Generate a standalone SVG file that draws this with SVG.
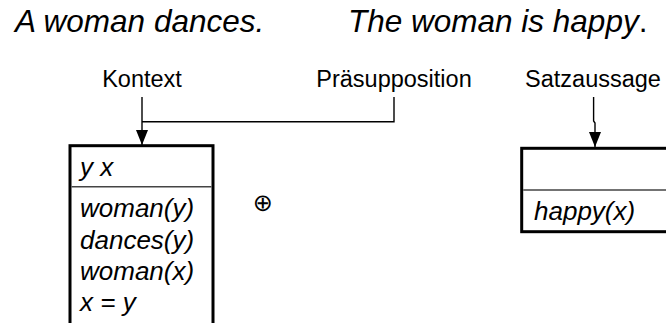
<svg xmlns="http://www.w3.org/2000/svg" width="666" height="323" viewBox="0 0 666 323">
<style>
.title{font-family:"Liberation Sans",Arial,sans-serif;font-size:31.5px;font-style:italic;fill:#000}
.lbl{font-family:"Liberation Sans",Arial,sans-serif;font-size:23.5px;fill:#000;text-anchor:middle}
.cond{font-family:"Liberation Sans",Arial,sans-serif;font-size:26px;font-style:italic;fill:#000}
.box{fill:#fff;stroke:#000;stroke-width:3}
.div{stroke:#444;stroke-width:1.5}
.con{fill:none;stroke:#000;stroke-width:1.4}
</style>
<defs>
<marker id="ah" markerUnits="userSpaceOnUse" markerWidth="16" markerHeight="12" refX="15" refY="6" orient="auto">
<path d="M0,0 L15,6 L0,12 z" fill="#000"/>
</marker>
</defs>
<rect width="666" height="323" fill="#fff"/>
<text class="title" x="15" y="32">A woman dances.</text>
<text class="title" x="348" y="32">The woman is happ<tspan>y</tspan><tspan font-style="normal">.</tspan></text>
<g id="label-kontext"><text class="lbl" x="142" y="87">Kontext</text></g>
<g id="label-praesupposition"><text class="lbl" x="394" y="87">Präsupposition</text></g>
<g id="label-satzaussage"><text class="lbl" x="593" y="87">Satzaussage</text></g>
<g id="connectors">
<path class="con" d="M142,97 L142,145" marker-end="url(#ah)"/>
<path class="con" d="M394,97 L394,121.7 L142,121.7"/>
<path class="con" d="M593.6,97 L593.6,121 L595,123 L595,147" marker-end="url(#ah)"/>
</g>
<g id="drs-left">
<rect class="box" x="70" y="145.7" width="143" height="200"/>
<line class="div" x1="71.5" y1="186.7" x2="211.5" y2="186.7"/>
<text class="cond" x="80" y="176">y x</text>
<text class="cond" x="80" y="217">woman(y)</text>
<text class="cond" x="80" y="248.5">dances(y)</text>
<text class="cond" x="80" y="280">woman(x)</text>
<text class="cond" x="80" y="311">x = y</text>
</g>
<g id="oplus"><text x="262.7" y="211" font-family="DejaVu Sans, sans-serif" font-size="24" text-anchor="middle">⊕</text></g>
<g id="drs-right">
<rect class="box" x="521.7" y="148.3" width="170" height="83.4"/>
<line class="div" x1="523.2" y1="190" x2="666" y2="190"/>
<text class="cond" x="534" y="219.5">happy(x)</text>
</g>
</svg>
